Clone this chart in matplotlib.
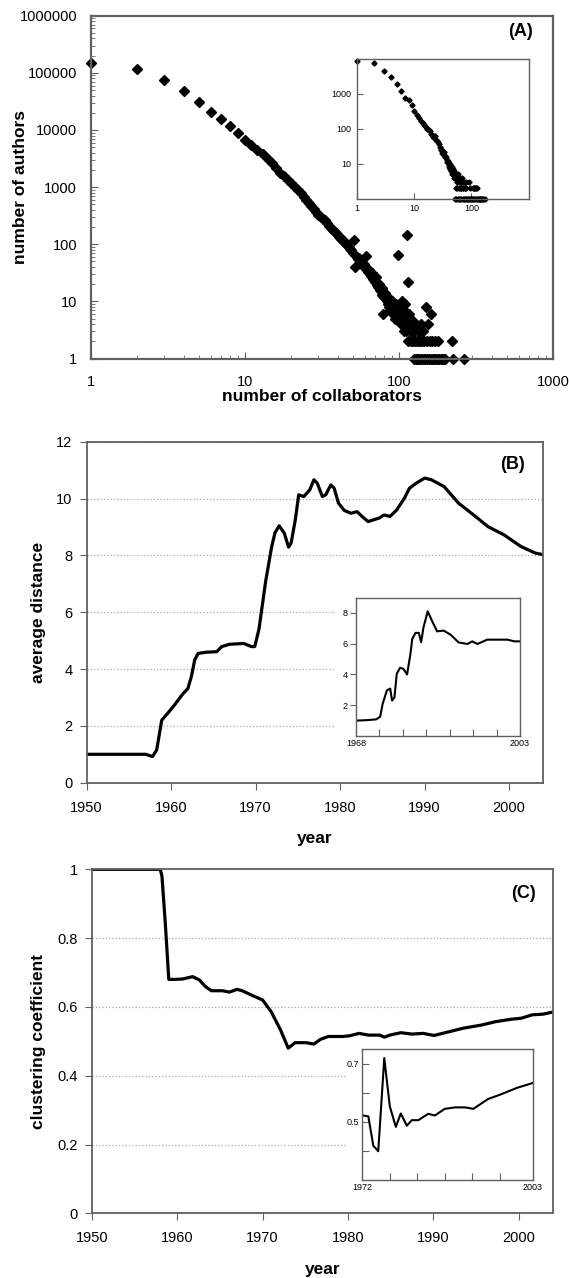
import matplotlib
matplotlib.use("Agg")
import matplotlib.pyplot as plt
import matplotlib.ticker as mticker
from matplotlib.patches import Rectangle

plt.rcParams['font.family'] = ['Liberation Sans', 'DejaVu Sans']

# ---------------- data ----------------
# (A) degree distribution, main plot
collab_k = list(range(1, 121)) + [122, 123, 124, 125, 126, 127, 128, 129, 130, 131, 132, 133, 134,
                                   135, 136, 137, 138, 139, 140, 142, 143, 145, 146, 148, 150, 151,
                                   153, 155, 156, 158, 160, 161, 163, 165, 168, 170, 172, 175, 178,
                                   180, 183, 186, 190, 195, 200, 222, 223, 265]
authors_n = [146000, 115000, 74000, 48000, 31000, 21000, 15600, 11500, 8900, 6800,
             5500, 4500, 3800, 3100, 2600, 2200, 1800, 1550, 1350, 1200,
             1020, 890, 780, 680, 600, 530, 470, 420, 370, 330,
             300, 275, 262, 235, 212, 195, 178, 170, 160, 145,
             135, 125, 118, 108, 100, 96, 90, 82, 78, 70,
             118, 40, 60, 55, 58, 48, 52, 42, 45, 40,
             62, 36, 33, 35, 30, 28, 31, 25, 24, 22,
             27, 19, 18, 20, 16, 15, 17, 13, 6, 12,
             14, 11, 10, 12, 9, 8, 11, 7, 9, 10,
             6, 8, 7, 5, 9, 6, 5, 65, 7, 6,
             5, 8, 4, 6, 10, 5, 3, 7, 4, 9,
             3, 145, 5, 2, 22, 6, 4, 3, 2, 5,
             3, 4, 2, 1, 3, 2, 1, 4, 2, 1, 3, 1, 2,
             1, 3, 2, 1, 4, 1, 2, 3, 1, 2, 1, 8, 1,
             2, 4, 1, 2, 1, 6, 1, 2, 1, 1, 2, 1, 1,
             2, 1, 1, 1, 1, 1, 2, 1, 1]

# (A) inset
ins_k = list(range(1, 51)) + [52, 53, 55, 56, 58, 60, 62, 64, 66, 68, 70, 72, 75, 78, 80, 85,
                              90, 95, 100, 105, 110, 115, 120, 125, 130, 140, 150, 160, 170,
                              52, 55, 58, 61, 64, 67, 71, 74, 78, 82, 86, 91, 96, 101, 107,
                              113, 127, 135, 143, 152, 161,
                              53, 57, 60, 63, 67, 71, 76, 81, 112, 118, 124]
ins_n = [8500, 7800, 4600, 2950, 1900, 1180, 780, 650, 470, 330,
         240, 200, 170, 145, 128, 112, 100, 92, 88, 70,
         57, 64, 60, 48, 44, 42, 36, 30, 27, 24,
         20, 19, 22, 17, 16, 15, 13, 11, 12, 9,
         8, 10, 7, 6, 8, 5, 5, 7, 4, 6,
         4, 5, 4, 3, 5, 4, 4, 3, 2, 3, 4, 2, 3, 2, 3, 1,
         3, 2, 1, 2, 2, 1, 2, 1, 1, 1, 1, 1, 1,
         1, 1, 1, 1, 1, 1, 1, 1, 1, 1, 1, 1, 1, 1, 1,
         1, 1, 1, 1, 1, 1,
         2, 2, 2, 2, 2, 2, 2, 2, 2, 2, 2]

# (B) average distance
year_b = [1950, 1957, 1957.8, 1958.3, 1958.9, 1959.6, 1960.4, 1961.3, 1962, 1962.4, 1962.8,
          1963.2, 1964.1, 1965.4, 1966, 1966.9, 1968.6, 1969.5, 1969.9, 1970.4, 1971.2,
          1971.9, 1972.3, 1972.8, 1973.4, 1973.9, 1974.2, 1974.7, 1975.1, 1975.7, 1976.4,
          1976.9, 1977.3, 1977.9, 1978.3, 1978.9, 1979.3, 1979.8, 1980.5, 1981.3, 1982,
          1982.6, 1983.3, 1984.6, 1985.2, 1985.9, 1986.7, 1987.6, 1988.2, 1988.9, 1990,
          1990.8, 1992.3, 1994, 1995.8, 1997.5, 1999.4, 2001.4, 2003.1, 2004.1]
dist_b = [1.0, 1.0, 0.92, 1.15, 2.2, 2.44, 2.73, 3.09, 3.32, 3.73, 4.32,
          4.55, 4.59, 4.61, 4.79, 4.87, 4.9, 4.79, 4.79, 5.4, 7.1,
          8.3, 8.8, 9.04, 8.78, 8.29, 8.43, 9.25, 10.13, 10.07, 10.3,
          10.66, 10.54, 10.07, 10.13, 10.48, 10.36, 9.84, 9.58, 9.48, 9.54,
          9.37, 9.19, 9.31, 9.42, 9.37, 9.6, 10.01, 10.36, 10.52, 10.72,
          10.66, 10.42, 9.84, 9.42, 9.01, 8.72, 8.31, 8.08, 8.02]

# (B) inset
year_bi = [1968, 1970.3, 1972.3, 1973.15, 1973.7, 1974.6, 1975.3, 1975.7, 1976.2, 1976.7,
           1977.4, 1978.1, 1978.9, 1979.6, 1980, 1980.7, 1981.4, 1981.9, 1982.4, 1983.3,
           1984.2, 1985.3, 1986.7, 1988.2, 1989.9, 1991.8, 1992.8, 1993.9, 1996, 2000.3,
           2001.8, 2003]
dist_bi = [1.0, 1.03, 1.08, 1.25, 2.1, 2.97, 3.08, 2.3, 2.5, 4.05,
           4.43, 4.37, 4.0, 5.3, 6.3, 6.7, 6.7, 6.1, 7.05, 8.1,
           7.5, 6.8, 6.85, 6.58, 6.08, 5.98, 6.15, 5.98, 6.26, 6.26,
           6.15, 6.15]

# (C) clustering coefficient
year_c = [1950, 1958, 1958.2, 1958.6, 1959, 1959.7, 1960.6, 1961.8, 1962.6, 1963.3, 1964,
          1965.3, 1966.1, 1967, 1967.6, 1968.9, 1970, 1971, 1972.1, 1973, 1973.8, 1975.1,
          1976, 1976.8, 1977.7, 1979.4, 1980.2, 1981.3, 1982.4, 1983.7, 1984.3, 1984.9,
          1986.2, 1987.5, 1988.8, 1990.1, 1991.4, 1993.5, 1995.6, 1997.3, 1999.1, 2000.3,
          2001.6, 2002.9, 2004.2]
clust_c = [1.0, 1.0, 0.98, 0.84, 0.68, 0.68, 0.681, 0.688, 0.678, 0.659, 0.647,
           0.647, 0.643, 0.651, 0.647, 0.632, 0.62, 0.586, 0.533, 0.48, 0.496, 0.496,
           0.492, 0.506, 0.514, 0.514, 0.516, 0.523, 0.518, 0.518, 0.512, 0.518,
           0.525, 0.521, 0.523, 0.517, 0.525, 0.538, 0.547, 0.557, 0.564, 0.567,
           0.577, 0.579, 0.586]

# (C) inset
year_ci = [1972.2, 1973.1, 1974, 1974.9, 1976, 1977, 1978.1, 1979, 1980.1, 1981, 1982.2,
           1984, 1985.2, 1987, 1988.9, 1990.7, 1992.2, 1994.9, 1997.1, 2000.1, 2003]
clust_ci = [0.522, 0.519, 0.418, 0.399, 0.72, 0.554, 0.483, 0.529, 0.487, 0.506, 0.506,
            0.528, 0.522, 0.545, 0.55, 0.55, 0.545, 0.579, 0.594, 0.617, 0.634]

# ---------------- layout ----------------
W, H = 569, 1278
SPINE = '#606060'
GRID = '#a8a8a8'
TICK_FS = 10.5
LABEL_FS = 12.5


def box(l, t, r, b):
    return [l / W, 1 - b / H, (r - l) / W, (b - t) / H]


def style_spines(ax, lw=1.3):
    for s in ax.spines.values():
        s.set_edgecolor(SPINE)
        s.set_linewidth(lw)


def intfmt(v, p):
    return f"{v:g}" if v < 1e5 else str(int(round(v)))


fig = plt.figure(figsize=(W / 100, H / 100), dpi=100)

# ===== (A) =====
axA = fig.add_axes(box(91, 15.7, 553, 358.5))
axA.plot(collab_k, authors_n, 'D', color='black', markersize=4.6, clip_on=False)
axA.set_xscale('log')
axA.set_yscale('log')
axA.set_xlim(1, 1000)
axA.set_ylim(1, 1e6)
axA.xaxis.set_major_formatter(mticker.FuncFormatter(intfmt))
axA.yaxis.set_major_formatter(mticker.FuncFormatter(intfmt))
axA.xaxis.set_minor_formatter(mticker.NullFormatter())
axA.yaxis.set_minor_formatter(mticker.NullFormatter())
axA.tick_params(which='both', direction='in', color=SPINE, labelsize=TICK_FS, top=False, right=False)
axA.tick_params(which='major', length=5, pad=10)
axA.tick_params(axis='x', which='major', pad=12)
axA.tick_params(which='minor', length=3)
axA.set_xlabel('number of collaborators', fontsize=LABEL_FS, fontweight='bold', labelpad=0)
axA.set_ylabel('number of authors', fontsize=LABEL_FS, fontweight='bold')
axA.yaxis.set_label_coords(-0.136, 0.5)
axA.text(0.929, 0.953, '(A)', transform=axA.transAxes, ha='center', va='center',
         fontsize=13, fontweight='bold')
style_spines(axA, 1.6)

axAi = fig.add_axes(box(357, 59, 528.5, 198.5))
axAi.plot(ins_k, ins_n, 'D', color='black', markersize=2.6, clip_on=False)
axAi.set_xscale('log')
axAi.set_yscale('log')
axAi.set_xlim(1, 1000)
axAi.set_ylim(1, 1e4)
axAi.set_xticks([1, 10, 100])
axAi.set_yticks([10, 100, 1000])
axAi.xaxis.set_major_formatter(mticker.FuncFormatter(intfmt))
axAi.yaxis.set_major_formatter(mticker.FuncFormatter(intfmt))
axAi.xaxis.set_minor_locator(mticker.NullLocator())
axAi.yaxis.set_minor_locator(mticker.NullLocator())
axAi.tick_params(direction='in', length=4, labelsize=6.5, color=SPINE, pad=4)
style_spines(axAi, 1.0)

# ===== (B) =====
axB = fig.add_axes(box(86.5, 441.7, 543, 782.7))
axB.set_axisbelow(True)
axB.yaxis.grid(True, linestyle=':', color=GRID, linewidth=0.9)
axB.plot(year_b, dist_b, color='black', linewidth=2.3)
axB.set_xlim(1950, 2004)
axB.set_ylim(0, 12)
axB.set_xticks(range(1950, 2001, 10))
axB.set_yticks(range(0, 13, 2))
axB.tick_params(direction='out', length=5, labelsize=TICK_FS, color=SPINE)
axB.tick_params(axis='x', pad=8)
axB.tick_params(axis='y', pad=5)
axB.set_xlabel('year', fontsize=LABEL_FS, fontweight='bold', labelpad=12)
axB.set_ylabel('average distance', fontsize=LABEL_FS, fontweight='bold')
axB.yaxis.set_label_coords(-0.089, 0.5)
axB.text(0.934, 0.932, '(B)', transform=axB.transAxes, ha='center', va='center',
         fontsize=13, fontweight='bold')
axB.add_patch(Rectangle((0.544, 0), 0.456, 0.545, transform=axB.transAxes,
                        facecolor='white', edgecolor='none', zorder=1))
style_spines(axB, 1.3)

axBi = fig.add_axes(box(356, 597.5, 520, 736))
axBi.plot(year_bi, dist_bi, color='black', linewidth=1.5)
axBi.set_xlim(1968, 2003)
axBi.set_ylim(0, 9)
axBi.set_yticks([2, 4, 6, 8])
bi_ticks = [1968, 1973, 1978, 1983, 1988, 1993, 1998, 2003]
axBi.set_xticks(bi_ticks)
axBi.set_xticklabels(['1968', '', '', '', '', '', '', '2003'])
axBi.tick_params(axis='y', direction='out', length=4, labelsize=6.5, color=SPINE, pad=2)
axBi.tick_params(axis='x', direction='in', length=5, labelsize=6.5, color=SPINE, pad=2)
style_spines(axBi, 1.0)

# ===== (C) =====
axC = fig.add_axes(box(92, 869.3, 552.7, 1213.3))
axC.set_axisbelow(True)
axC.yaxis.grid(True, linestyle=':', color=GRID, linewidth=0.9)
axC.plot(year_c, clust_c, color='black', linewidth=2.3)
axC.set_xlim(1950, 2004)
axC.set_ylim(0, 1)
axC.set_xticks(range(1950, 2001, 10))
axC.set_yticks([0, 0.2, 0.4, 0.6, 0.8, 1])
axC.yaxis.set_major_formatter(mticker.FuncFormatter(lambda v, p: f"{v:g}"))
axC.tick_params(direction='out', length=5, labelsize=TICK_FS, color=SPINE)
axC.tick_params(axis='x', pad=8)
axC.tick_params(axis='y', pad=5)
axC.set_xlabel('year', fontsize=LABEL_FS, fontweight='bold', labelpad=12)
axC.set_ylabel('clustering coefficient', fontsize=LABEL_FS, fontweight='bold')
axC.yaxis.set_label_coords(-0.100, 0.5)
axC.text(0.937, 0.930, '(C)', transform=axC.transAxes, ha='center', va='center',
         fontsize=13, fontweight='bold')
axC.add_patch(Rectangle((0.553, 0), 0.447, 0.48, transform=axC.transAxes,
                        facecolor='white', edgecolor='none', zorder=1))
style_spines(axC, 1.3)

axCi = fig.add_axes(box(362.3, 1049.3, 532.7, 1180))
axCi.plot(year_ci, clust_ci, color='black', linewidth=1.5)
axCi.set_xlim(1972, 2003)
axCi.set_ylim(0.3, 0.75)
axCi.set_yticks([0.4, 0.5, 0.6, 0.7])
axCi.set_yticklabels(['', '0.5', '', '0.7'])
ci_ticks = [1972, 1977, 1982, 1987, 1992, 1997, 2003]
axCi.set_xticks(ci_ticks)
axCi.set_xticklabels(['1972', '', '', '', '', '', '2003'])
axCi.tick_params(direction='in', length=5, labelsize=6.5, color=SPINE, pad=2)
style_spines(axCi, 1.0)

fig.savefig('out.png', dpi=100)
